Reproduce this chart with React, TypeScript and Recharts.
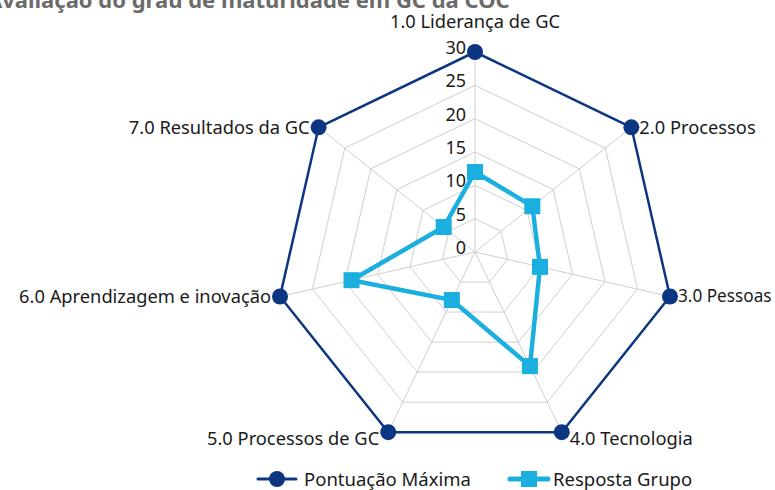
import { RadarChart, Radar, PolarGrid, PolarAngleAxis, PolarRadiusAxis, Legend } from 'recharts'

const categories = [
  '1.0 Liderança de GC',
  '2.0 Processos',
  '3.0 Pessoas',
  '4.0 Tecnologia',
  '5.0 Processos de GC',
  '6.0 Aprendizagem e inovação',
  '7.0 Resultados da GC',
]
const pontuacaoMaxima = [30, 30, 30, 30, 30, 30, 30]
const respostaGrupo = [12, 11, 10, 19, 8, 19, 6]
const radiusTicks = [0, 5, 10, 15, 20, 25, 30]

const data = categories.map((name, i) => ({
  name,
  max: pontuacaoMaxima[i],
  grupo: respostaGrupo[i],
}))

const CX = 475
const CY = 252
const R = 200
const NAVY = '#0d3682'
const LIGHT = '#1bafdf'
const FONT = '"Noto Sans", "Open Sans", sans-serif'

function AngleTick(props: any) {
  const { x, y, payload } = props
  const a = Math.atan2(y - CY, x - CX)
  const vx = CX + R * Math.cos(a)
  const vy = CY + R * Math.sin(a)
  const dx = vx - CX
  let anchor: 'start' | 'end' | 'middle' = 'middle'
  let tx = vx
  let ty = vy
  let size = 18.3
  if (Math.abs(dx) < 1) {
    ty = vy - 32
  } else if (dx > 0) {
    anchor = 'start'
    tx = vx + 8
    ty = vy + (vy > CY + 100 ? 5 : -1)
    // keep the rightmost label inside the picture
    if (vx > 650) size = 17.2
  } else {
    anchor = 'end'
    tx = vx - 9
    ty = vy + (vy > CY + 100 ? 5 : -1)
  }
  return (
    <text x={tx} y={ty} textAnchor={anchor} dominantBaseline="central" fill="#1a1a1a" fontSize={size} fontFamily={FONT}>
      {payload.value}
    </text>
  )
}

function RadiusTick(props: any) {
  const { x, y, payload } = props
  return (
    <text x={x - 9} y={y - 5} textAnchor="end" dominantBaseline="central" fill="#1a1a1a" fontSize={18} fontFamily={FONT}>
      {payload.value}
    </text>
  )
}

function CircleDot(props: any) {
  const { cx, cy } = props
  return <circle cx={cx} cy={cy} r={8} fill={NAVY} />
}

function SquareDot(props: any) {
  const { cx, cy } = props
  return <rect x={cx - 8} y={cy - 8} width={16} height={16} fill={LIGHT} />
}

function LegendContent() {
  return (
    <div
      style={{
        display: 'flex',
        justifyContent: 'flex-start',
        paddingLeft: 256,
        gap: 36,
        fontFamily: FONT,
        fontSize: 18.5,
        lineHeight: '20px',
        color: '#1a1a1a',
      }}
    >
      <div style={{ display: 'flex', alignItems: 'center' }}>
        <svg width={44} height={20}>
          <line x1={2} y1={10} x2={40} y2={10} stroke={NAVY} strokeWidth={3} strokeLinecap="round" />
          <circle cx={21} cy={10} r={8} fill={NAVY} />
        </svg>
        <span style={{ marginLeft: 4 }}>Pontuação Máxima</span>
      </div>
      <div style={{ display: 'flex', alignItems: 'center' }}>
        <svg width={44} height={20}>
          <line x1={3} y1={10} x2={41} y2={10} stroke={LIGHT} strokeWidth={5} strokeLinecap="round" />
          <rect x={14} y={2} width={16} height={16} fill={LIGHT} />
        </svg>
        <span style={{ marginLeft: 2 }}>Resposta Grupo</span>
      </div>
    </div>
  )
}

export default function App() {
  return (
    <div style={{ position: 'absolute', left: 0, top: 0, width: 775, height: 490, overflow: 'hidden', background: '#fff' }}>
      <div
        style={{
          position: 'absolute',
          left: -13,
          top: -16,
          fontFamily: FONT,
          fontWeight: 700,
          fontSize: 22,
          color: '#6b6b6b',
          whiteSpace: 'nowrap',
        }}
      >
        Avaliação do grau de maturidade em GC da COC
      </div>
      <RadarChart width={775} height={490} data={data} cx={CX} cy={CY} outerRadius={R} startAngle={90} endAngle={-270}>
        <PolarGrid gridType="polygon" stroke="#cfcfcf" strokeWidth={1} />
        <PolarAngleAxis dataKey="name" tick={<AngleTick />} tickLine={false} axisLine={false} />
        <PolarRadiusAxis
          angle={90}
          domain={[0, 30]}
          ticks={radiusTicks}
          tickCount={7}
          tick={<RadiusTick />}
          axisLine={false}
          tickLine={false}
        />
        <Radar
          name="Pontuação Máxima"
          dataKey="max"
          stroke={NAVY}
          strokeWidth={2.5}
          fill="none"
          fillOpacity={0}
          dot={<CircleDot />}
          isAnimationActive={false}
        />
        <Radar
          name="Resposta Grupo"
          dataKey="grupo"
          stroke={LIGHT}
          strokeWidth={4.5}
          fill="none"
          fillOpacity={0}
          dot={<SquareDot />}
          isAnimationActive={false}
        />
        <Legend verticalAlign="bottom" wrapperStyle={{ left: 0, top: 469, width: 775, height: 20 }} content={<LegendContent />} />
      </RadarChart>
    </div>
  )
}
